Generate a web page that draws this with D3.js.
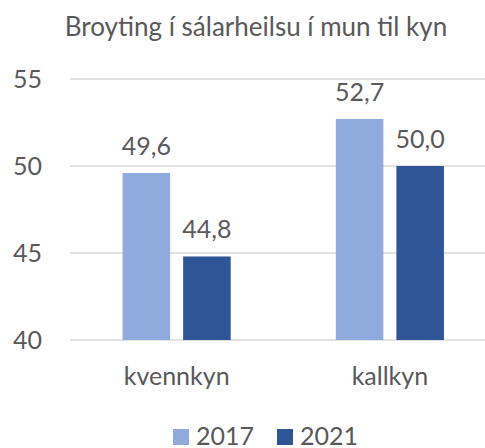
<!DOCTYPE html>
<html>
<head>
<meta charset="utf-8">
<script src="https://cdn.jsdelivr.net/npm/d3@7"></script>
<style>
  body { margin: 0; background: #fff; }
  svg { display: block; font-family: Lato, "Open Sans", sans-serif; }
</style>
</head>
<body>
<div id="chart"></div>
<script>
// data
const categories = ["kvennkyn", "kallkyn"];
const years = ["2017", "2021"];
const values2017 = [49.6, 52.7];
const values2021 = [44.8, 50.0];
const yTicks = [40, 45, 50, 55];
const title = "Broyting í sálarheilsu í mun til kyn";

const width = 485, height = 448;
const colors = { "2017": "#8FAADC", "2021": "#2F5597" };
const textColor = "#595959";

const svg = d3.select("#chart").append("svg")
    .attr("width", width)
    .attr("height", height);

// plot area (right side runs past the window edge, like the reference)
const plotLeft = 70, plotRight = 496.5;
const plotTop = 79, plotBottom = 340;

const x0 = d3.scaleBand()
    .domain(categories)
    .range([plotLeft, plotRight])
    .paddingInner(0.493)
    .paddingOuter(0.2465);

const x1 = d3.scaleBand()
    .domain(years)
    .range([0, x0.bandwidth()])
    .paddingInner(0.215);

const y = d3.scaleLinear()
    .domain([40, 55])
    .range([plotBottom, plotTop]);

// title
svg.append("text")
    .attr("x", 256)
    .attr("y", 36)
    .attr("text-anchor", "middle")
    .attr("fill", textColor)
    .style("font-size", "26px")
    .text(title);

// gridlines
svg.append("g")
    .selectAll("line")
    .data(yTicks)
    .join("line")
    .attr("x1", plotLeft)
    .attr("x2", width)
    .attr("y1", d => y(d))
    .attr("y2", d => y(d))
    .attr("stroke", "#D9D9D9")
    .attr("stroke-width", 1.5);

// y axis labels
const yAxis = d3.axisLeft(y).tickValues(yTicks).tickSize(0).tickPadding(0);
const yAxisGroup = svg.append("g")
    .attr("transform", "translate(42,0)")
    .call(yAxis);
yAxisGroup.select(".domain").remove();
yAxisGroup.selectAll("text")
    .attr("fill", textColor)
    .style("font-size", "25px")
    .style("font-family", "Lato, sans-serif");

// bars
const rows = categories.map((c, i) => ({
    category: c,
    values: [
        { year: "2017", value: values2017[i] },
        { year: "2021", value: values2021[i] }
    ]
}));

const groups = svg.append("g")
    .selectAll("g")
    .data(rows)
    .join("g")
    .attr("transform", d => `translate(${x0(d.category)},0)`);

groups.selectAll("rect")
    .data(d => d.values)
    .join("rect")
    .attr("x", d => x1(d.year))
    .attr("y", d => y(d.value))
    .attr("width", x1.bandwidth())
    .attr("height", d => y(40) - y(d.value))
    .attr("fill", d => colors[d.year]);

// value labels
groups.selectAll("text")
    .data(d => d.values)
    .join("text")
    .attr("x", d => x1(d.year) + x1.bandwidth() / 2)
    .attr("y", d => y(d.value) - 18)
    .attr("text-anchor", "middle")
    .attr("fill", textColor)
    .style("font-size", "25px")
    .text(d => d3.format(".1f")(d.value).replace(".", ","));

// category labels
const xAxis = d3.axisBottom(x0).tickSize(0).tickPadding(0);
const xAxisGroup = svg.append("g")
    .attr("transform", `translate(0,${plotBottom})`)
    .call(xAxis);
xAxisGroup.select(".domain").remove();
xAxisGroup.selectAll("text")
    .attr("dy", null)
    .attr("y", 45)
    .attr("fill", textColor)
    .style("font-size", "25px")
    .style("font-family", "Lato, sans-serif");

// legend
const legendItems = [
    { year: "2017", x: 173 },
    { year: "2021", x: 277 }
];
const legend = svg.append("g")
    .selectAll("g")
    .data(legendItems)
    .join("g")
    .attr("transform", d => `translate(${d.x},429)`);
legend.append("rect")
    .attr("width", 16)
    .attr("height", 16)
    .attr("fill", d => colors[d.year]);
legend.append("text")
    .attr("x", 23)
    .attr("y", 16)
    .attr("fill", textColor)
    .style("font-size", "25px")
    .text(d => d.year);
</script>
</body>
</html>
